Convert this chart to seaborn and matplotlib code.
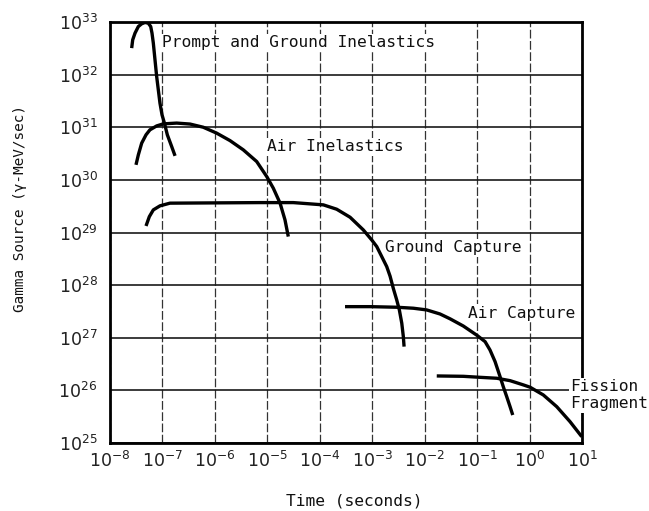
import numpy as np
import pandas as pd
import matplotlib
matplotlib.use("Agg")
import matplotlib.pyplot as plt
import seaborn as sns

# ---- data (time in seconds, source in gamma-MeV/sec) ----
prompt_t = [2.59e-8, 2.71e-8, 3.00e-8, 3.47e-8, 4.02e-8, 4.65e-8, 5.37e-8, 5.97e-8, 6.32e-8,
            6.70e-8, 7.21e-8, 7.76e-8, 8.34e-8, 8.97e-8, 9.82e-8, 1.09e-7, 1.24e-7, 1.50e-7, 1.74e-7]
prompt_s = [3.19e32, 4.59e32, 6.15e32, 8.20e32, 9.25e32, 9.8e32, 9.5e32, 8.2e32, 6.15e32,
            3.97e32, 1.91e32, 9.2e31, 5.14e31, 2.87e31, 1.72e31, 1.20e31, 7.17e30, 4.30e30, 2.86e30]

airinel_t = [3.13e-8, 3.47e-8, 4.02e-8, 4.86e-8, 5.77e-8, 7.76e-8, 1.04e-7, 1.87e-7, 3.36e-7,
             6.01e-7, 1.08e-6, 1.94e-6, 3.48e-6, 6.27e-6, 9.72e-6, 1.30e-5, 1.75e-5, 2.17e-5, 2.51e-5]
airinel_s = [1.93e30, 2.99e30, 4.99e30, 7.18e30, 8.93e30, 1.06e31, 1.16e31, 1.20e31, 1.15e31,
             1.00e31, 7.73e30, 5.58e30, 3.72e30, 2.23e30, 1.16e30, 6.95e29, 3.61e29, 1.74e29, 8.36e28]

gcap_t = [4.86e-8, 5.62e-8, 6.70e-8, 8.97e-8, 1.39e-7, 7.24e-6, 3.13e-5, 1.17e-4, 2.10e-4,
          3.78e-4, 6.76e-4, 9.77e-4, 1.22e-3, 1.52e-3, 1.89e-3, 2.19e-3, 2.53e-3, 2.93e-3,
          3.29e-3, 3.66e-3, 3.92e-3, 4.05e-3]
gcap_s = [1.33e29, 2.0e29, 2.69e29, 3.21e29, 3.61e29, 3.70e29, 3.70e29, 3.35e29, 2.77e29,
          1.95e29, 1.12e29, 7.23e28, 5.40e28, 3.48e28, 2.25e28, 1.48e28, 8.6e27, 5.24e27,
          3.38e27, 1.89e27, 1.05e27, 6.78e26]

acap_t = [3.03e-4, 9.08e-4, 2.93e-3, 6.08e-3, 1.09e-2, 1.96e-2, 3.05e-2, 5.46e-2, 9.84e-2,
          1.42e-1, 1.76e-1, 2.20e-1, 2.74e-1, 3.16e-1, 3.67e-1, 4.25e-1, 4.78e-1]
acap_s = [3.90e27, 3.90e27, 3.80e27, 3.64e27, 3.38e27, 2.83e27, 2.29e27, 1.67e27, 1.12e27,
          8.43e26, 5.86e26, 3.52e26, 1.82e26, 1.17e26, 7.59e25, 4.90e25, 3.40e25]

fiss_t = [1.70e-2, 5.46e-2, 1.14e-1, 2.37e-1, 4.25e-1, 7.62e-1, 1.02, 1.83, 3.30, 5.92, 9.88]
fiss_s = [1.88e26, 1.85e26, 1.77e26, 1.70e26, 1.53e26, 1.27e26, 1.15e26, 8.18e25, 4.90e25,
          2.54e25, 1.32e25]

series = {
    "Prompt and Ground Inelastics": (prompt_t, prompt_s),
    "Air Inelastics": (airinel_t, airinel_s),
    "Ground Capture": (gcap_t, gcap_s),
    "Air Capture": (acap_t, acap_s),
    "Fission Fragment": (fiss_t, fiss_s),
}

x_ticks = [1e-8, 1e-7, 1e-6, 1e-5, 1e-4, 1e-3, 1e-2, 1e-1, 1e0, 1e1]
x_tick_labels = [r"$10^{-8}$", r"$10^{-7}$", r"$10^{-6}$", r"$10^{-5}$", r"$10^{-4}$",
                 r"$10^{-3}$", r"$10^{-2}$", r"$10^{-1}$", r"$10^{0}$", r"$10^{1}$"]
y_ticks = [1e25, 1e26, 1e27, 1e28, 1e29, 1e30, 1e31, 1e32, 1e33]
y_tick_labels = [r"$10^{25}$", r"$10^{26}$", r"$10^{27}$", r"$10^{28}$", r"$10^{29}$",
                 r"$10^{30}$", r"$10^{31}$", r"$10^{32}$", r"$10^{33}$"]

# label positions (data coords)
labels = [
    ("Prompt and Ground Inelastics", 1.0e-7, 4.0e32),
    ("Air Inelastics", 1.0e-5, 4.3e30),
    ("Ground Capture", 1.75e-3, 5.1e28),
    ("Air Capture", 6.8e-2, 2.95e27),
    ("Fission\nFragment", 6.0, 8.1e25),
]

rows = []
for name, (t, s) in series.items():
    for i, (a, b) in enumerate(zip(t, s)):
        rows.append({"series": name, "order": i, "t": a, "s": b})
df = pd.DataFrame(rows)

sns.set_style("white")
plt.rcParams["font.family"] = ["DejaVu Sans Mono", "DejaVu Sans"]
plt.rcParams["mathtext.fontset"] = "dejavusans"

fig = plt.figure(figsize=(6.49, 5.11), dpi=100)
ax = fig.add_axes([110 / 649, 1 - 443 / 511, 472 / 649, 421 / 511])
ax.set_xscale("log")
ax.set_yscale("log")

for name in series:
    sub = df[df["series"] == name]
    sns.lineplot(data=sub, x="t", y="s", sort=False, estimator=None, ax=ax,
                 color="black", linewidth=2.4, legend=False, zorder=4,
                 solid_capstyle="butt", solid_joinstyle="round")

ax.set_xlim(1e-8, 1e1)
ax.set_ylim(1e25, 1e33)
ax.set_xticks(x_ticks)
ax.set_xticklabels(x_tick_labels, fontsize=12.5, family="DejaVu Sans")
ax.set_yticks(y_ticks)
ax.set_yticklabels(y_tick_labels, fontsize=12.5, family="DejaVu Sans")
ax.xaxis.set_minor_locator(matplotlib.ticker.NullLocator())
ax.yaxis.set_minor_locator(matplotlib.ticker.NullLocator())
ax.tick_params(axis="both", length=0, colors="#222222")
ax.tick_params(axis="x", pad=6)
ax.tick_params(axis="y", pad=9)

ax.grid(True, axis="y", color="#1a1a1a", linewidth=1.2, linestyle="-")
ax.grid(True, axis="x", color="#333333", linewidth=0.9, linestyle=(0, (7, 2)))
ax.set_axisbelow(True)

for sp in ax.spines.values():
    sp.set_visible(True)
    sp.set_color("black")
    sp.set_linewidth(2.0)

for txt, x, y in labels:
    ax.text(x, y, txt, fontsize=11.7, ha="left", va="center", color="#111111",
            zorder=5, linespacing=1.2,
            bbox=dict(facecolor="white", edgecolor="none", pad=1.0))

ax.set_xlabel("Time (seconds)", fontsize=11.7, color="#111111", va="center")
ax.set_ylabel("Gamma Source (\u03b3-MeV/sec)", fontsize=10.4, color="#111111", va="center")
ax.xaxis.set_label_coords(0.517, -0.138)
ax.yaxis.set_label_coords(-0.191, 0.556)

fig.savefig("out.png", dpi=100)
